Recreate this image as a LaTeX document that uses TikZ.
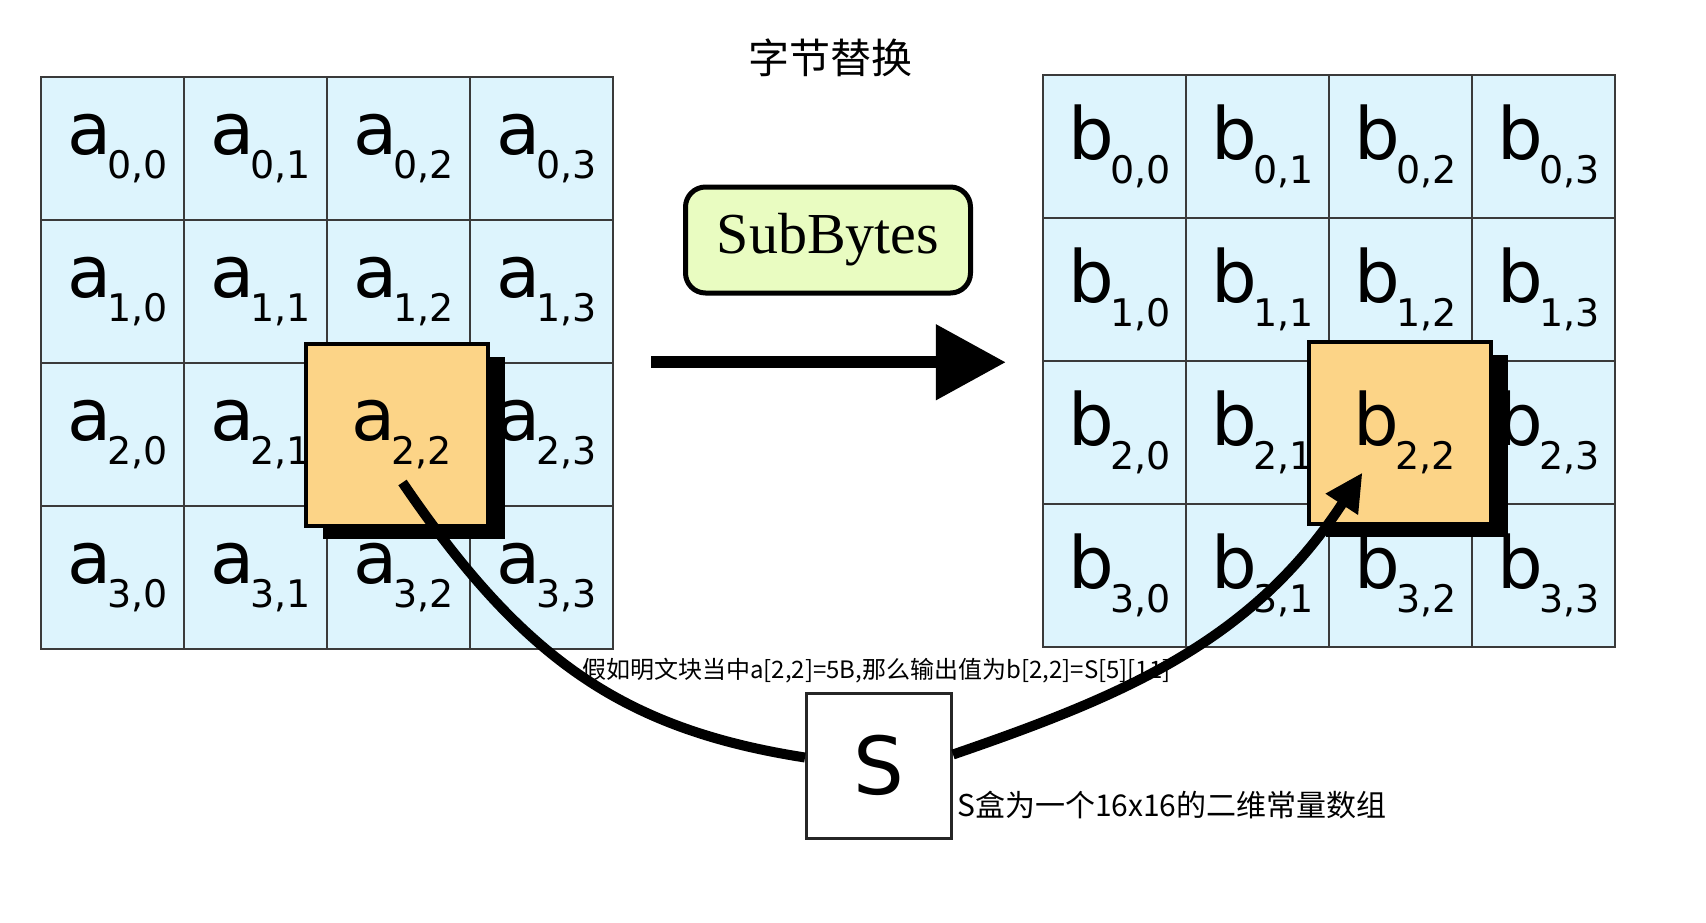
\documentclass[tikz,border=0pt]{standalone}
\usepackage{fontspec}
\usepackage{tikz}
\usetikzlibrary{arrows.meta,positioning,shadows}
\newfontfamily\cjkfont{Noto Sans CJK SC}
\newfontfamily\cellfont{DejaVu Sans}
\newfontfamily\opfont{Liberation Serif}
\definecolor{cellblue}{HTML}{DDF4FD}
\definecolor{hlorange}{HTML}{FCD487}
\definecolor{opgreen}{HTML}{E9FCC1}
\definecolor{gridgray}{HTML}{3A3A3A}
\newcommand{\entry}[2]{\kern10pt#1\kern-4pt\raisebox{-24pt}{\fontsize{38}{38}\selectfont #2}}

\begin{document}
\begin{tikzpicture}[x=1pt, y=-1pt,
    cell/.style={rectangle, draw=gridgray, line width=2.5pt, fill=cellblue, minimum size=143pt, inner sep=0pt, font=\cellfont\fontsize{72}{72}\selectfont},
    hl/.style={rectangle, draw=black, line width=4pt, fill=hlorange, minimum size=182pt, inner sep=0pt, font=\cellfont\fontsize{72}{72}\selectfont,
        drop shadow={shadow xshift=17pt, shadow yshift=-13pt, fill=black, opacity=1}},
    op/.style={rectangle, rounded corners=20pt, draw=black, line width=5pt, fill=opgreen, minimum width=285pt, minimum height=106pt, font=\opfont\fontsize{58}{58}\selectfont},
    sbox/.style={rectangle, draw=black!85, line width=3pt, fill=white, minimum size=145pt, inner sep=0pt, font=\cellfont\fontsize{80}{80}\selectfont},
    title/.style={font=\cjkfont\fontsize{41}{41}\selectfont},
    note/.style={inner sep=0pt, anchor=west},
    curve/.style={line width=10pt},
    bigarrow/.style={line width=12pt, -{Triangle[length=70pt,width=73pt]}}]

    \useasboundingbox (0,0) rectangle (1706,922);

    \node[title] (title) at (830,58) {字节替换};

    \foreach \r in {0,...,3}{
        \foreach \c in {0,...,3}{
            \node[cell] (a\r\c) at (112.5+143*\c,148.5+143*\r) {\entry{a}{\r,\c}};
            \node[cell] (b\r\c) at (1114.5+143*\c,146.5+143*\r) {\entry{b}{\r,\c}};
        }
    }

    \node[hl] (ahl) at ([xshift=-2]a22) {\entry{a}{2,2}};
    \node[hl] (bhl) at ([xshift=-1]b22) {\entry{b}{2,2}};

    \node[op] (subbytes) at (828,240) {SubBytes};
    \node[sbox] (sbox) at (879,765.5) {S};

    \coordinate (ain) at ([xshift=6,yshift=-48]ahl.center);
    \coordinate (bout) at ([xshift=-37,yshift=-40]bhl.center);

    \draw[bigarrow] ([xshift=37]a13.south east |- b10.south west) -- ([xshift=-36]b10.south west);
    \draw[curve] (ain) .. controls (522,658) and (622,729) .. ([yshift=8]sbox.west);
    \draw[curve, -{Triangle[length=38pt,width=36pt]}] ([yshift=11]sbox.east) .. controls (1123,696) and (1252,642) .. (bout);

    \node[note, font=\cjkfont\fontsize{24}{24}\selectfont] (example) at (582,671) {假如明文块当中a[2,2]=5B,那么输出值为b[2,2]=S[5][11]};
    \node[note, font=\cjkfont\fontsize{30}{30}\selectfont] (snote) at ([xshift=4,yshift=-40]sbox.east) {S盒为一个16x16的二维常量数组};
\end{tikzpicture}
\end{document}
